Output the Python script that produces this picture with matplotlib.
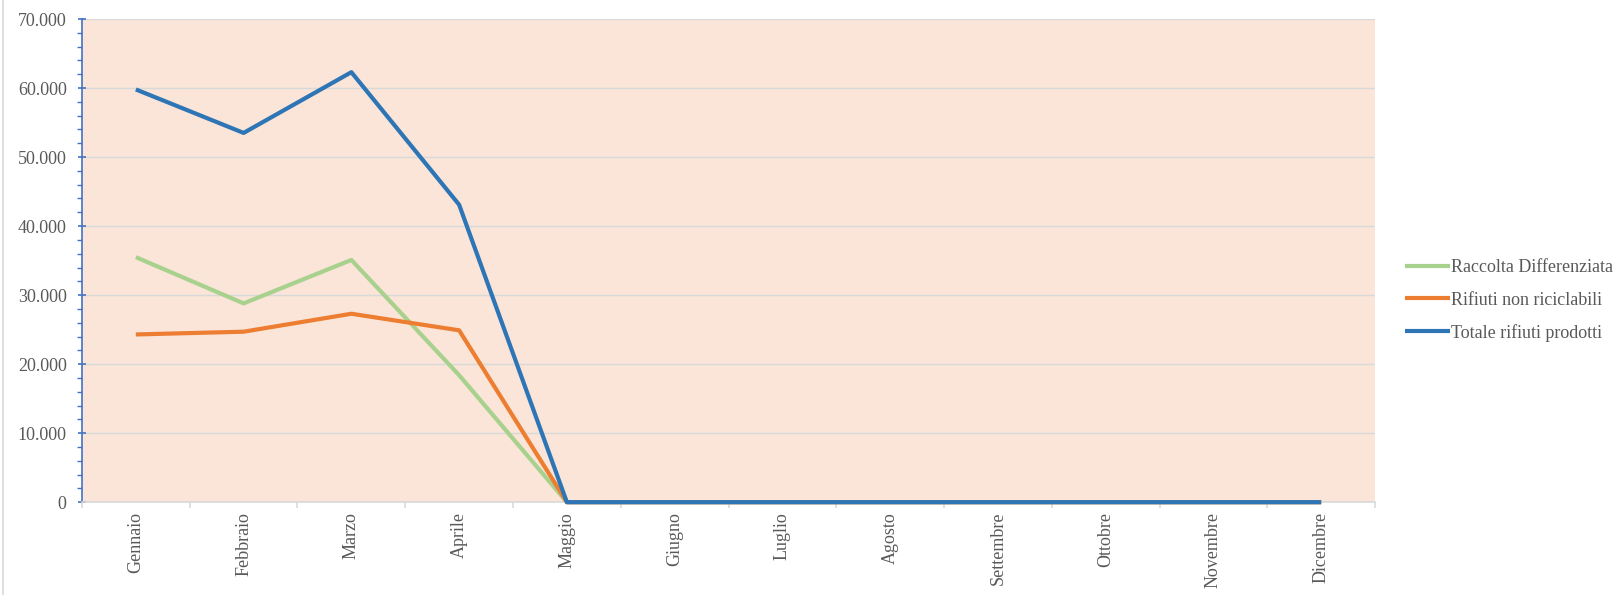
import matplotlib.pyplot as plt
from matplotlib.ticker import FuncFormatter, MultipleLocator, FixedLocator
from matplotlib.lines import Line2D

plt.rcParams['font.family'] = ['Liberation Serif', 'DejaVu Serif']

mesi = ['Gennaio', 'Febbraio', 'Marzo', 'Aprile', 'Maggio', 'Giugno', 'Luglio',
        'Agosto', 'Settembre', 'Ottobre', 'Novembre', 'Dicembre']
raccolta = [35500, 28800, 35100, 18400, 0, 0, 0, 0, 0, 0, 0, 0]
non_ricic = [24300, 24700, 27300, 24900, 0, 0, 0, 0, 0, 0, 0, 0]
totale = [59800, 53500, 62300, 43100, 0, 0, 0, 0, 0, 0, 0, 0]

txt = '#595959'
fig = plt.figure(figsize=(16.2, 5.95), dpi=100)
ax = fig.add_axes([0.0506, 0.156, 0.7982, 0.812])
ax.set_facecolor('#FAE5D8')

# draw the three series; zero values sit on the x axis, so no clipping
x = range(len(mesi))
ax.plot(x, raccolta, color='#A9D18E', lw=3, label='Raccolta Differenziata',
        solid_capstyle='butt', clip_on=False, zorder=3)
ax.plot(x, non_ricic, color='#ED7D31', lw=3, label='Rifiuti non riciclabili',
        solid_capstyle='butt', clip_on=False, zorder=3)
ax.plot(x, totale, color='#2E75B6', lw=3, label='Totale rifiuti prodotti',
        solid_capstyle='butt', clip_on=False, zorder=3)

ax.set_xlim(-0.5, len(mesi) - 0.5)
ax.set_ylim(0, 70000)
ax.yaxis.set_major_locator(MultipleLocator(10000))
ax.yaxis.set_minor_locator(MultipleLocator(2000))
ax.yaxis.set_major_formatter(FuncFormatter(lambda v, p: f'{int(v):,}'.replace(',', '.')))
ax.grid(axis='y', color='#D9D9D9', lw=1)
ax.set_axisbelow(True)

ax.set_xticks(list(x))
ax.set_xticklabels(mesi, rotation=90, color=txt, fontsize=13)
ax.xaxis.set_minor_locator(FixedLocator([i - 0.5 for i in range(len(mesi) + 1)]))
ax.tick_params(axis='x', which='major', length=0, pad=7)
ax.tick_params(axis='x', which='minor', length=4, color='#D9D9D9', width=1.2)
ax.tick_params(axis='y', which='major', length=6, color='#4472C4', width=1.2,
               labelcolor=txt, labelsize=13, direction='inout', pad=8)
ax.tick_params(axis='y', which='minor', length=3.5, color='#4472C4', width=1, direction='out')

for s in ['top', 'right']:
    ax.spines[s].set_visible(False)
ax.spines['left'].set_color('#4472C4')
ax.spines['left'].set_linewidth(1.2)
ax.spines['bottom'].set_color('#D9D9D9')
ax.spines['bottom'].set_linewidth(1.2)

leg = fig.legend(loc='center left', bbox_to_anchor=(0.867, 0.495), frameon=False,
                 fontsize=13, handlelength=2.5, handletextpad=0.05, labelspacing=0.85,
                 borderaxespad=0, borderpad=0)
for t in leg.get_texts():
    t.set_color(txt)

# thin grey edge on the left of the chart area
fig.lines.append(Line2D([0.002, 0.002], [0, 1], transform=fig.transFigure,
                        color='#D9D9D9', lw=1.2))

fig.savefig('out.png', dpi=100)
